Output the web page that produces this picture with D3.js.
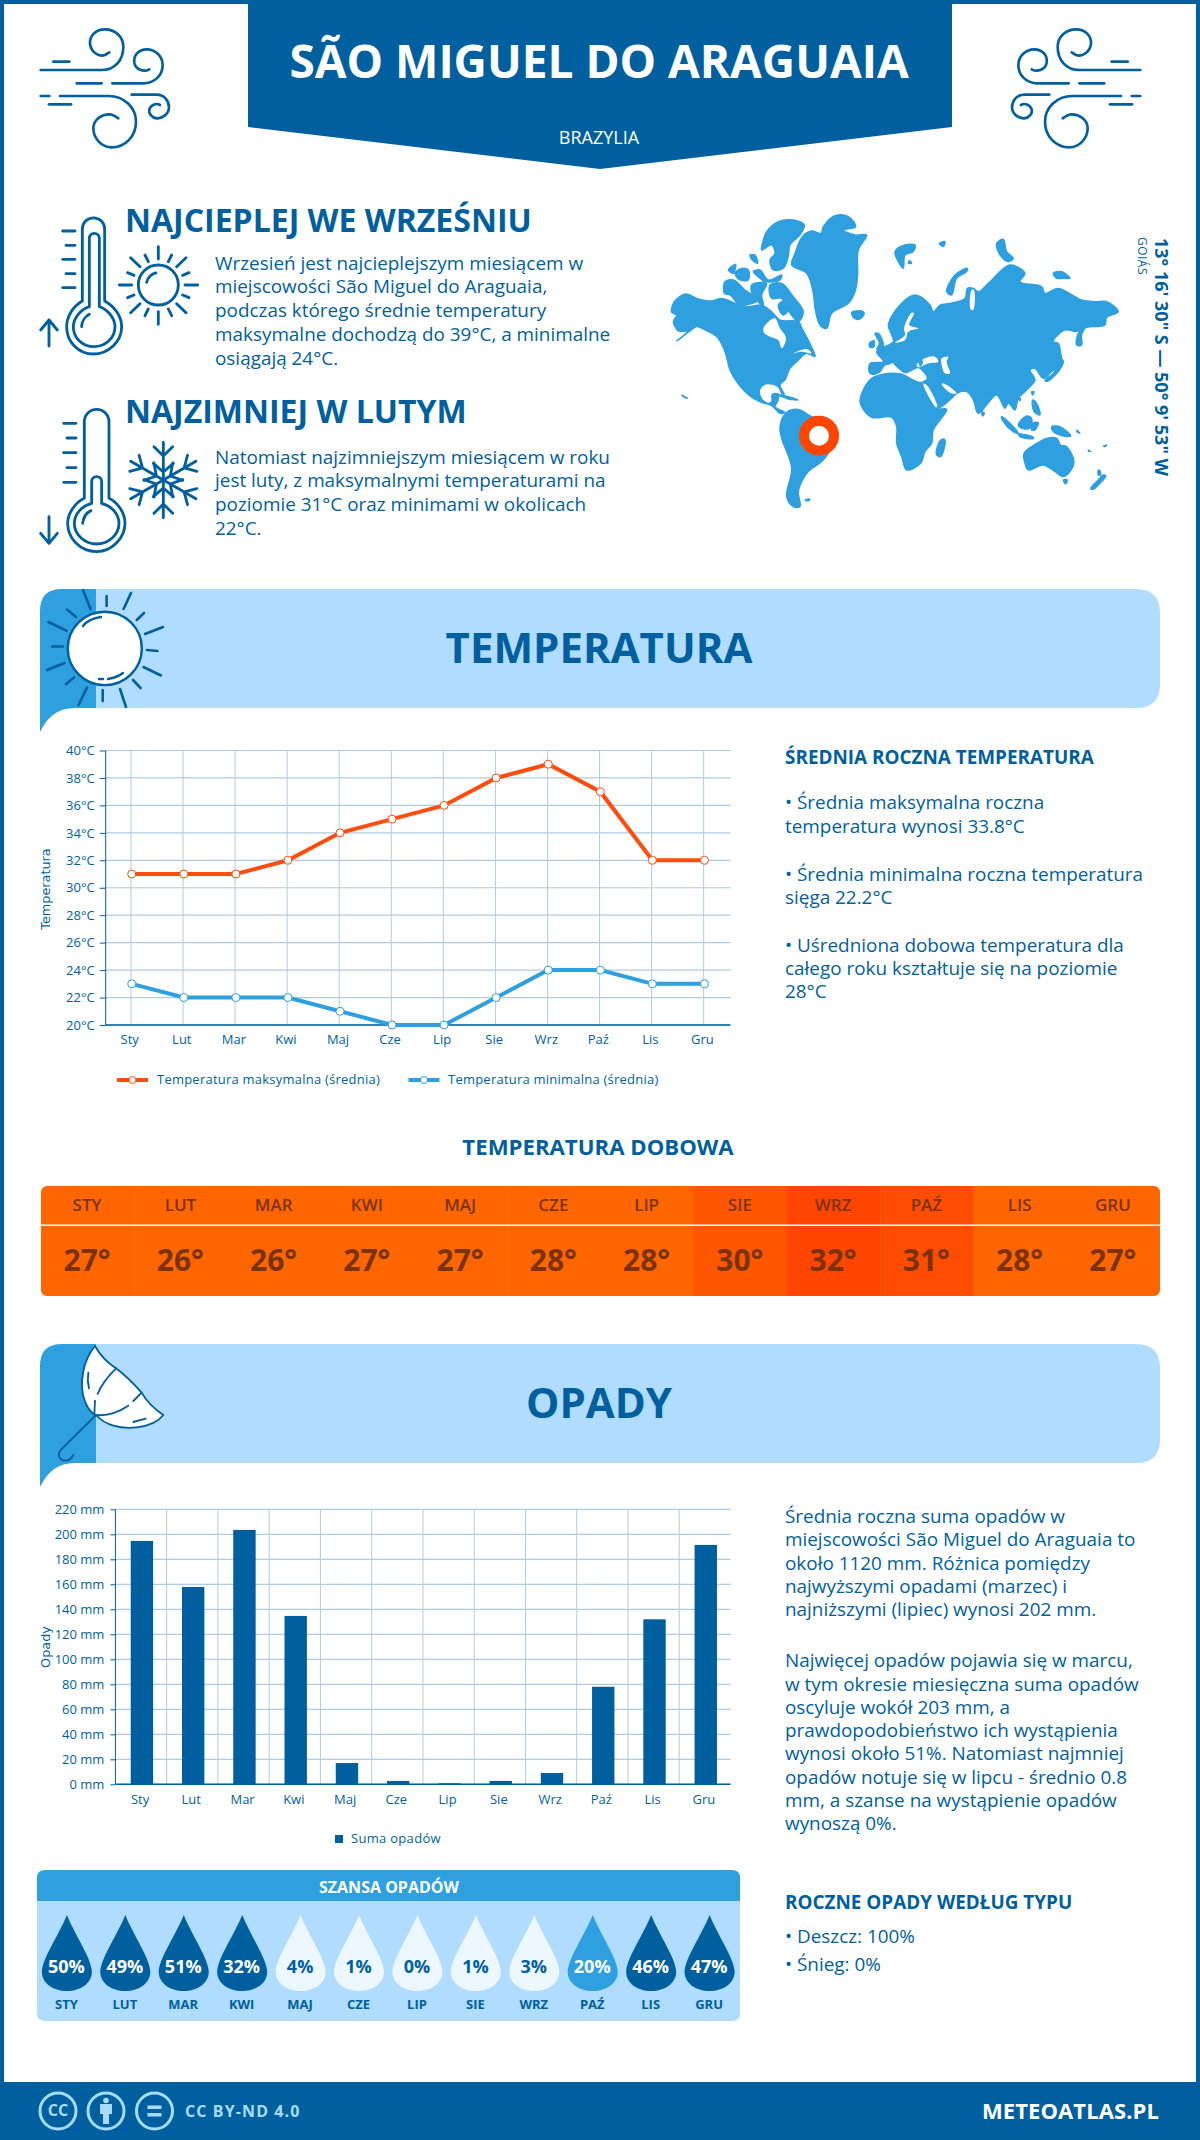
<!DOCTYPE html>
<html><head><meta charset="utf-8">
<script src="https://cdnjs.cloudflare.com/ajax/libs/d3/7.8.5/d3.min.js"></script>
<style>html,body{margin:0;padding:0;background:#fff}svg{display:block}text{font-family:"Open Sans",sans-serif}</style>
</head><body><svg id="c" width="1200" height="2140" viewBox="0 0 1200 2140"></svg>
<script>
const months=["Sty","Lut","Mar","Kwi","Maj","Cze","Lip","Sie","Wrz","Paź","Lis","Gru"];
const monthsUpper=["STY","LUT","MAR","KWI","MAJ","CZE","LIP","SIE","WRZ","PAŹ","LIS","GRU"];
const tempMax=[31,31,31,32,34,35,36,38,39,37,32,32];
const tempMin=[23,22,22,22,21,20,20,22,24,24,23,23];
const tempDaily=[27,26,26,27,27,28,28,30,32,31,28,27];
const precip=[194.7,157.9,203.5,134.7,17,2.7,0.8,2.7,9,78,132,191.5];
const rainChance=[50,49,51,32,4,1,0,1,3,20,46,47];
const tempTicks=[20,22,24,26,28,30,32,34,36,38,40];
const precipTicks=[0,20,40,60,80,100,120,140,160,180,200,220];

const DARK="#005F9E",MID="#2E9FDF",LIGHT="#B0DCFF",GRID="#B1CBE0",HOT="#FF4D0D";
const svg=d3.select("#c");
function T(x,y,s,o={}){
  const t=svg.append("text").attr("x",x).attr("y",y).attr("dy",".35em").text(s)
   .attr("fill",o.fill||DARK).attr("font-size",o.size||18).attr("font-weight",o.weight||400)
   .attr("text-anchor",o.anchor||"start");
  if(o.ls)t.attr("letter-spacing",o.ls);
  if(o.family)t.style("font-family",o.family);
  if(o.rot)t.attr("transform",`rotate(${o.rot} ${x} ${y})`);
  return t;
}
function P(g,d,o={}){return g.append("path").attr("d",d).attr("fill",o.fill||"none").attr("stroke",o.stroke||"none").attr("stroke-width",o.w||0).attr("stroke-linecap","round").attr("stroke-linejoin","round");}

// page frame
svg.append("rect").attr("x",2).attr("y",2).attr("width",1196).attr("height",2136).attr("fill","#fff").attr("stroke",DARK).attr("stroke-width",4);

// header
P(svg,"M248,0H952V127L600,169L248,127Z",{fill:DARK});
T(599,62,"SÃO MIGUEL DO ARAGUAIA",{fill:"#fff",size:46,weight:700,anchor:"middle"});
T(599,138,"BRAZYLIA",{fill:"#fff",size:18,anchor:"middle"});

// wind icons (traced at 3x)
function wind(g){
  const h=g.append("g").attr("transform","translate(30,20) scale(.3333)");
  const s={stroke:DARK,w:8};
  P(h,"M70,125H118",s);
  P(h,"M32,150H215C255,150 280,120 280,80C280,50 255,28 225,28C195,28 178,50 180,72C183,95 205,112 225,105L238,97",s);
  P(h,"M140,190H215M247,190H340C375,190 398,165 398,135C398,108 375,88 350,88C325,88 310,108 313,128C317,148 340,158 358,148",s);
  P(h,"M32,228H58M90,228H235C285,228 318,265 318,305C318,350 285,382 245,382C215,382 190,355 190,325C190,300 215,282 240,283C250,284 258,290 265,295",s);
  P(h,"M57,253H123",s);
  P(h,"M305,224H380C405,224 417,245 417,262C417,283 395,296 380,295C365,293 355,280 358,268C362,255 378,248 390,255",s);
}
wind(svg.append("g"));
wind(svg.append("g").attr("transform","translate(1181,0) scale(-1,1)"));

// hot thermometer and sun
const hot=svg.append("g").attr("transform","translate(30,205) scale(.3333)");
const st={stroke:DARK,w:8.5};
P(hot,"M157,288V72A33,33 0 0 1 224,72V288C255,305 275,335 275,365C275,410 235,447 190,447C145,447 110,410 110,365C110,335 128,305 157,288Z",st);
P(hot,"M178,305V100A15,15 0 0 1 208,100V305C235,315 255,340 255,365C255,400 225,425 192,425C158,425 130,400 130,365C130,340 150,315 178,305Z",st);
P(hot,"M155,365C155,350 165,335 178,328",st);
P(hot,"M98,78H135M108,121H135M98,163H135M108,206H135M98,248H135",st);
P(hot,"M57,423V345M32,375L57,345L82,375",st);
hot.append("circle").attr("cx",385).attr("cy",240).attr("r",60).attr("fill","none").attr("stroke",DARK).attr("stroke-width",8.5);
P(hot,"M350,232C352,218 365,207 378,204",st);
P(hot,"M268,240H305M465,240H503M385,125V162M385,320V358M302,158L330,185M468,158L440,185M302,323L330,296M468,323L440,296M345,150L355,170M425,150L415,170M293,203L312,211M477,203L458,211M293,278L312,270M477,278L458,270M345,332L355,312M425,332L415,312",st);

// cold thermometer and snowflake
const cold=svg.append("g").attr("transform","translate(30,400) scale(.3333)");
P(cold,"M163,295V65A37,37 0 0 1 237,65V295C265,308 285,340 285,370C285,415 245,455 200,455C150,455 113,415 113,370C113,340 135,308 163,295Z",st);
P(cold,"M185,310V245A15,15 0 0 1 215,245V310C245,318 267,342 267,370C267,405 235,432 200,432C165,432 133,405 133,370C133,342 155,318 185,310Z",st);
P(cold,"M158,370C160,352 170,338 183,332",st);
P(cold,"M101,70H138M111,114H138M101,158H138M111,203H138M101,247H138",st);
P(cold,"M57,350V430M32,400L57,430L82,400",st);
d3.range(6).forEach(i=>{
  const a=cold.append("g").attr("transform",`translate(400,240) rotate(${i*60})`);
  P(a,"M0,0V-113M-28,-100L0,-72L28,-100M-30,-50L0,-24L30,-50",st);
});

// headings
T(125,221,"NAJCIEPLEJ WE WRZEŚNIU",{size:32,weight:700});
T(125,411.5,"NAJZIMNIEJ W LUTYM",{size:32,weight:700});
[[263,"Wrzesień jest najcieplejszym miesiącem w"],[286,"miejscowości São Miguel do Araguaia,"],[310,"podczas którego średnie temperatury"],[334,"maksymalne dochodzą do 39°C, a minimalne"],[358,"osiągają 24°C."],
 [457,"Natomiast najzimniejszym miesiącem w roku"],[480,"jest luty, z maksymalnymi temperaturami na"],[504,"poziomie 31°C oraz minimami w okolicach"],[528,"22°C."]]
 .forEach(d=>T(215,d[0],d[1],{size:18.9}));

// world map: decorative outline
const westLand=[
"20,322 28,290 62,267 100,282 140,288 170,280 215,297 250,305 290,300 320,320 345,345 400,350 412,372 432,410 450,455 425,445 395,470 375,490 360,525 345,540 358,568 350,565 342,548 325,538 298,538 283,558 290,582 308,595 320,590 322,568 340,568 338,590 330,605 360,622 345,625 320,602 290,592 262,578 240,560 215,530 195,495 180,440 155,395 120,375 95,365 75,378 35,408 65,380 40,378 25,350 35,330",
"305,80 340,50 385,45 418,60 405,90 375,120 370,155 355,190 325,195 315,165 330,145 320,120 290,135 295,105",
"315,240 350,235 385,275 415,320 400,350 365,310 350,280 320,280",
"210,205 230,190 250,195 250,225 225,225","180,230 205,225 240,255 280,285 225,300 195,270 178,265","265,200 285,195 310,225 350,210 345,225 300,230 285,220","255,150 270,150 278,175 262,165","190,195 212,178 205,205","260,240 305,235 290,270 295,300 265,275","340,300 365,285 375,305 355,330",
"475,65 510,32 550,35 572,65 535,75 570,90 605,90 580,135 578,210 570,260 550,295 500,325 485,370 465,360 450,310 445,265 425,205 380,180 390,145 412,95 440,78 468,85",
"560,322 590,318 598,325 585,342 568,340",
"345,665 365,622 400,613 440,635 462,640 520,690 490,745 470,770 430,800 410,830 400,860 405,905 385,905 365,875 380,790 350,700",
"420,885 435,882 430,888","335,568 370,575 400,585 370,582","50,570 68,580 60,578"
];
const westWater=["295,370 310,350 330,340 345,370 362,395 360,415 350,430 340,405 315,395 298,385","385,445 425,432 440,445 410,440"];
const eastLand=[
"135,65 165,45 195,45 190,65 165,75 160,115 145,95","268,40 285,35 280,50","178,92 185,100 175,100",
"440,40 460,28 470,65 490,85 475,95 450,75","610,130 635,125 660,145 640,145 620,145",
"290,185 315,135 352,115 350,125 320,145 305,195",
"115,285 150,225 195,195 240,225 250,245 270,225 300,220 345,205 352,175 370,175 385,185 420,155 480,105 525,130 510,155 575,170 585,190 625,175 695,210 735,215 770,215 805,245 770,262 765,285 710,292 680,305 645,300 610,335 625,340 635,385 640,395 605,425 580,445 555,415 540,420 555,450 530,480 505,505 495,540 475,520 465,535 440,495 385,550 370,510 350,485 320,490 305,505 260,535 225,465 205,440 180,435 145,395 130,400 105,405 85,430 60,430 60,400 100,395 80,365 130,335 125,315",
"30,510 65,445 140,430 215,458 260,535 290,538 250,600 245,640 225,665 212,700 170,720 155,680 140,640 140,590 125,562 65,562 35,530",
"75,310 85,310 100,350 80,358 88,340","58,340 72,332 72,350 60,352",
"275,628 285,630 272,680 260,675 262,650","395,545 403,550 398,558",
"585,450 610,430 630,395 640,395 625,425 590,455","680,345 685,310 712,280 695,315 695,345",
"455,560 480,580 505,610 490,605 460,575","505,612 550,622 550,626 510,620","505,585 530,558 545,565 540,595 515,595","548,580 565,578 555,600 545,600",
"605,590 630,590 662,618 640,618 610,605","548,510 560,520 570,555 552,545","545,485 552,485 548,495","505,505 512,505 510,512",
"680,600 690,610 682,606","715,660 722,665 716,664","760,648 770,645 765,650",
"522,670 560,640 590,625 620,625 632,645 650,650 672,695 660,725 640,740 615,725 580,705 535,720 525,700",
"640,750 652,750 647,762","722,775 745,750 760,735 768,738 745,765 730,778","745,720 750,722 752,735 745,735"
];
const eastWater=["220,462 230,465 262,530 258,532","200,405 225,385 255,380 265,395 235,400 205,412","275,385 295,380 290,395 300,430 285,430 275,405","275,462 285,462 320,490 300,488","185,248 192,250 178,285 205,295 175,305 165,330 135,338 165,315 162,295","95,425 130,400 165,430 190,420 205,415 230,445 210,455 140,425 70,438","365,180 372,180 370,240 362,238"];
const eastIsles=["130,398 150,395 175,425 165,430","205,385 220,395 210,410","150,395 185,415 178,425"];
const smooth=d3.line().curve(d3.curveCatmullRomClosed.alpha(.5));
const parse=s=>s.split(" ").map(p=>p.split(",").map(Number));
function drawMap(tx_,ty_,land,water,isles){
  const g=svg.append("g").attr("transform",`translate(${tx_},${ty_}) scale(.3333)`);
  land.forEach(d=>g.append("path").attr("d",smooth(parse(d))).attr("fill",MID).attr("stroke",MID).attr("stroke-width",4).attr("stroke-linejoin","round"));
  water.forEach(d=>g.append("path").attr("d",smooth(parse(d))).attr("fill","#fff"));
  (isles||[]).forEach(d=>g.append("path").attr("d",smooth(parse(d))).attr("fill",MID));
}
drawMap(665,205,westLand,westWater);
drawMap(850,230,eastLand,eastWater,eastIsles);
svg.append("circle").attr("cx",819).attr("cy",435.7).attr("r",15).attr("fill","#fff").attr("stroke","#FF4500").attr("stroke-width",10);
T(1161,357,"13° 16' 30\" S — 50° 9' 53\" W",{size:18,weight:700,anchor:"middle",rot:90});
T(1142,256,"GOIÁS",{size:12,anchor:"middle",rot:90,ls:.5});

// section bands
function band(y0,y1,title,tx){
  P(svg,`M40,${y1+24}C48,${y1+8} 58,${y1} 75,${y1}H96V${y0}H62Q40,${y0} 40,${y0+22}Z`,{fill:MID});
  P(svg,`M96,${y0}H1136Q1160,${y0} 1160,${y0+24}V${y1-24}Q1160,${y1} 1136,${y1}H96Z`,{fill:LIGHT});
  T(tx,(y0+y1)/2,title,{size:42,weight:700,anchor:"middle"});
}
band(589,708,"TEMPERATURA",599);
band(1344,1463,"OPADY",599);

// sun in band
const bs=svg.append("g");
P(bs,"M83,590L90.6,609M131,593L123.6,609M163,627L145,634M157.5,651L147,650M161,675.5L143.5,667M140.6,688L133,680M126,707L120,689M102.7,701V690M78.5,705L87,687.5M66,684L74,677.5M47,670L64.5,663M52,646.5H63M48.5,622L66.4,630.6M67,609.6L76,617M106.6,596V606M144,613L136.7,620",{stroke:DARK,w:2.6});
bs.append("ellipse").attr("cx",104.8).attr("cy",648.4).attr("rx",37).attr("ry",36.7).attr("fill","#fff").attr("stroke",DARK).attr("stroke-width",2.4);
P(bs,"M83,626C87,621 93,618 101,617",{stroke:DARK,w:2.4});
P(bs,"M108,679C114,678 119,676 123,673M99,679H103",{stroke:DARK,w:2.4});

// umbrella in band
const um=svg.append("g").attr("transform","translate(30,1340) scale(.3333)");
const su={stroke:DARK,w:5.5};
P(um,"M195,18C160,60 145,130 165,185C175,210 190,222 198,225C225,255 270,268 320,262C355,258 385,245 400,225C370,205 350,185 335,158C310,130 285,105 258,85C235,70 210,45 195,18Z",{fill:"#fff",stroke:DARK,w:5.5});
P(um,"M258,85C238,105 215,130 203,162M195,182L193,222M198,225C225,228 260,220 295,197M310,183L335,158M175,98C172,115 173,130 177,145M310,246L347,236",su);
P(um,"M198,225L92,330C80,345 90,362 105,362C115,362 125,355 130,345",su);

// TEMPERATURE CHART
const tx=d3.scaleBand().domain(months).range([105.7,730.5]);
const ty=d3.scaleLinear().domain([20,40]).range([1025,750.5]);
const gt=svg.append("g");
gt.append("g").selectAll("line").data(tempTicks).join("line").attr("x1",105.7).attr("x2",730.5).attr("y1",d=>ty(d)).attr("y2",d=>ty(d)).attr("stroke",GRID).attr("stroke-width",1.2);
gt.append("g").selectAll("line").data(months).join("line").attr("x1",d=>tx(d)+tx.bandwidth()/2-.8).attr("x2",d=>tx(d)+tx.bandwidth()/2-.8).attr("y1",750.5).attr("y2",1025).attr("stroke",GRID).attr("stroke-width",1);
const tAxisY=gt.append("g").attr("transform","translate(105.7,0)").call(d3.axisLeft(ty).tickValues(tempTicks).tickFormat(d=>d+"°C").tickSize(6).tickPadding(5));
tAxisY.select(".domain").attr("stroke",DARK).attr("d","M0,750.5V1025");
const tAxisX=gt.append("g").attr("transform","translate(0,1025)").call(d3.axisBottom(tx).tickSize(0).tickPadding(10));
tAxisX.select(".domain").attr("stroke",DARK).attr("stroke-width",1.6).attr("d","M105.7,0H730.5");
tAxisX.selectAll(".tick text").attr("dx",-2);
[tAxisY,tAxisX].forEach(a=>{a.selectAll("text").attr("fill",DARK).attr("font-size",13).style("font-family",'"Open Sans",sans-serif');a.selectAll("line").attr("stroke",DARK);});
const lineT=d3.line().x((d,i)=>tx(months[i])+tx.bandwidth()/2).y(d=>ty(d));
function series(data,color){
  gt.append("path").attr("d",lineT(data)).attr("fill","none").attr("stroke",color).attr("stroke-width",4);
  gt.append("g").selectAll("circle").data(data).join("circle").attr("cx",(d,i)=>tx(months[i])+tx.bandwidth()/2).attr("cy",d=>ty(d)).attr("r",4).attr("fill","#fff").attr("stroke",color).attr("stroke-width",1);
}
series(tempMax,HOT);series(tempMin,MID);
T(46,889,"Temperatura",{size:12.8,anchor:"middle",rot:-90,family:'"DejaVu Sans",sans-serif'});
function lg(x0,color,label,lx){
  svg.append("line").attr("x1",x0).attr("x2",x0+31).attr("y1",1080).attr("y2",1080).attr("stroke",color).attr("stroke-width",4);
  svg.append("circle").attr("cx",x0+15.5).attr("cy",1080).attr("r",3.5).attr("fill","#fff").attr("stroke",color);
  T(lx,1079,label,{size:13,ls:.23});
}
lg(117,HOT,"Temperatura maksymalna (średnia)",157);
lg(408.5,MID,"Temperatura minimalna (średnia)",448);

// right column temperature
T(785,757,"ŚREDNIA ROCZNA TEMPERATURA",{size:18.9,weight:700});
[[802,"• Średnia maksymalna roczna"],[826,"temperatura wynosi 33.8°C"],[874,"• Średnia minimalna roczna temperatura"],[897,"sięga 22.2°C"],[945,"• Uśredniona dobowa temperatura dla"],[968,"całego roku kształtuje się na poziomie"],[991,"28°C"]]
 .forEach(d=>T(785,d[0],d[1],{size:18.9}));

// daily temperature strip
T(598,1147,"TEMPERATURA DOBOWA",{size:22.2,weight:700,anchor:"middle"});
const hx=d3.scaleBand().domain(monthsUpper).range([41,1160]);
const hc=d3.scaleLinear().domain([28,32]).range(["#FF6600","#FF4500"]).clamp(true);
const cp=svg.append("clipPath").attr("id","hclip");cp.append("rect").attr("x",41).attr("y",1186).attr("width",1119).attr("height",110).attr("rx",6);
const hh=svg.append("g").attr("clip-path","url(#hclip)");
hh.selectAll("rect").data(tempDaily).join("rect").attr("x",(d,i)=>hx(monthsUpper[i])).attr("y",1186).attr("width",hx.bandwidth()+.5).attr("height",110).attr("fill",d=>hc(d));
hh.append("line").attr("x1",41).attr("x2",1160).attr("y1",1225.3).attr("y2",1225.3).attr("stroke","#fff").attr("stroke-width",1.4);
monthsUpper.forEach((m,i)=>{
  const c=hx(m)+hx.bandwidth()/2-.5;
  T(c,1205.5,m,{size:17,weight:600,anchor:"middle",fill:"#7A3200"});
  T(c,1260.5,tempDaily[i]+"°",{size:30,weight:700,anchor:"middle",fill:"#7A3200"});
});

// PRECIP CHART
const px=d3.scaleBand().domain(months).range([115.4,730.5]);
const py=d3.scaleLinear().domain([0,220]).range([1784.3,1509.3]);
const gp=svg.append("g");
gp.append("g").selectAll("line").data(precipTicks).join("line").attr("x1",115.4).attr("x2",730.5).attr("y1",d=>py(d)).attr("y2",d=>py(d)).attr("stroke",GRID).attr("stroke-width",1.2);
gp.append("g").selectAll("line").data(months.slice(1)).join("line").attr("x1",d=>px(d)).attr("x2",d=>px(d)).attr("y1",1509.3).attr("y2",1784.3).attr("stroke",GRID).attr("stroke-width",1);
gp.selectAll("rect").data(precip).join("rect").attr("x",(d,i)=>px(months[i])+px.bandwidth()/2-11.2+.9).attr("width",22.4).attr("y",d=>py(d)).attr("height",d=>1784.3-py(d)).attr("fill",DARK);
const pAxisY=gp.append("g").attr("transform","translate(115.4,0)").call(d3.axisLeft(py).tickValues(precipTicks).tickFormat(d=>d+" mm").tickSize(5).tickPadding(6));
pAxisY.select(".domain").attr("stroke",DARK).attr("d","M0,1509.3V1784.3");
const pAxisX=gp.append("g").attr("transform","translate(0,1784.3)").call(d3.axisBottom(px).tickSize(0).tickPadding(10));
pAxisX.select(".domain").attr("stroke",DARK).attr("stroke-width",1.6).attr("d","M115.4,0H730.5");
pAxisX.selectAll(".tick text").attr("dx",-1);
[pAxisY,pAxisX].forEach(a=>{a.selectAll("text").attr("fill",DARK).attr("font-size",13).style("font-family",'"Open Sans",sans-serif');a.selectAll("line").attr("stroke",DARK);});
T(46,1647,"Opady",{size:12.8,anchor:"middle",rot:-90,family:'"DejaVu Sans",sans-serif'});
svg.append("rect").attr("x",335).attr("y",1835).attr("width",8).attr("height",8).attr("fill",DARK);
T(351,1838,"Suma opadów",{size:13,ls:.3});

// right column precip
[[1516,"Średnia roczna suma opadów w"],[1539,"miejscowości São Miguel do Araguaia to"],[1563,"około 1120 mm. Różnica pomiędzy"],[1586,"najwyższymi opadami (marzec) i"],[1609,"najniższymi (lipiec) wynosi 202 mm."],
 [1660,"Najwięcej opadów pojawia się w marcu,"],[1684,"w tym okresie miesięczna suma opadów"],[1707,"oscyluje wokół 203 mm, a"],[1730,"prawdopodobieństwo ich wystąpienia"],[1753,"wynosi około 51%. Natomiast najmniej"],[1777,"opadów notuje się w lipcu - średnio 0.8"],[1800,"mm, a szanse na wystąpienie opadów"],[1823,"wynoszą 0%."]]
 .forEach(d=>T(785,d[0],d[1],{size:18.9}));
T(785,1902,"ROCZNE OPADY WEDŁUG TYPU",{size:18.9,weight:700});
T(785,1936,"• Deszcz: 100%",{size:18.9});
T(785,1964,"• Śnieg: 0%",{size:18.9});

// rain chance panel
P(svg,"M37,1901V1878Q37,1870 45,1870H732Q740,1870 740,1878V1901Z",{fill:MID});
P(svg,"M37,1901H740V2013Q740,2021 732,2021H45Q37,2021 37,2013Z",{fill:LIGHT});
T(389,1887,"SZANSA OPADÓW",{size:16,weight:700,anchor:"middle",fill:"#fff"});
const dx=d3.scalePoint().domain(monthsUpper).range([66.9,709.6]);
const dropFill=v=>v>=30?DARK:v>=10?MID:"#EDF7FF";
const dg=svg.append("g");
rainChance.forEach((v,i)=>{
  const m=monthsUpper[i],c=dx(m);
  dg.append("path").attr("transform",`translate(${c},1973)`).attr("d","M0,-58C-8,-38 -25,-14 -25,-1C-25,10 -14,18 0,18C14,18 25,10 25,-1C25,-14 8,-38 0,-58Z").attr("fill",dropFill(v));
  T(c-.5,1966.7,v+"%",{size:18,weight:700,anchor:"middle",fill:v>=10?"#fff":DARK});
  T(c-.5,2004.7,m,{size:13,weight:700,anchor:"middle"});
});

// footer
svg.append("rect").attr("x",0).attr("y",2082).attr("width",1200).attr("height",58).attr("fill",DARK);
const FL="#A8DCFF";
[58,106,154.5].forEach(c=>svg.append("circle").attr("cx",c).attr("cy",2111).attr("r",18).attr("fill","none").attr("stroke",FL).attr("stroke-width",3));
T(58,2110.5,"CC",{size:16,weight:700,anchor:"middle",fill:FL});
svg.append("circle").attr("cx",106).attr("cy",2100.5).attr("r",2.8).attr("fill",FL);
P(svg,"M100,2104H112V2114H109V2124H103V2114H100Z",{fill:FL});
P(svg,"M147.5,2105.5H161.5V2109H147.5ZM147.5,2113H161.5V2116.5H147.5Z",{fill:FL});
T(185,2111,"CC BY-ND 4.0",{size:16,weight:700,fill:FL,ls:1.1});
T(1159,2111,"METEOATLAS.PL",{size:22,weight:700,anchor:"end",fill:"#fff",ls:.1});
</script></body></html>
